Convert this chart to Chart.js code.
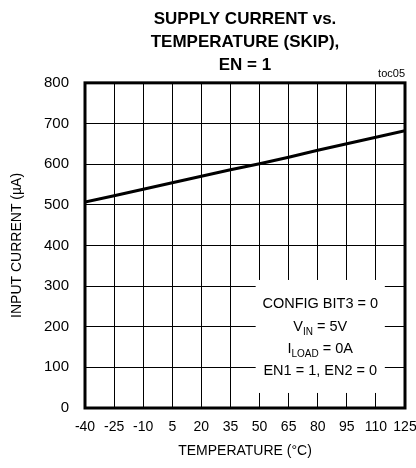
<!DOCTYPE html>
<html lang="en">
<head>
  <meta charset="UTF-8">
  <title>Supply Current vs. Temperature</title>
  <script src="https://cdn.jsdelivr.net/npm/chart.js"></script>
  <style>
    html, body { margin: 0; padding: 0; background: #fff; }
    .chart-box { position: relative; width: 416px; height: 468px; }
  </style>
</head>
<body>
  <div class="chart-box">
    <canvas id="supplyChart"></canvas>
  </div>
  <script>
    // Data
    const temperatures = [-40, -25, -10, 5, 20, 35, 50, 65, 80, 95, 110, 125];
    const inputCurrent = [507, 522, 538, 554, 570, 586, 601, 617, 634, 650, 666, 682];
    const xTicks = [-40, -25, -10, 5, 20, 35, 50, 65, 80, 95, 110, 125];
    const yTicks = [0, 100, 200, 300, 400, 500, 600, 700, 800];

    const FONT = "'Liberation Sans', Arial, sans-serif";

    // note box (in data units) and its text lines
    const noteBox = { x0: 48, x1: 114.6, y0: 37, y1: 315 };
    const noteLines = [
      [['CONFIG BIT3 = 0', false]],
      [['V', false], ['IN', true], [' = 5V', false]],
      [['I', false], ['LOAD', true], [' = 0A', false]],
      [['EN1 = 1, EN2 = 0', false]]
    ];

    const framePlugin = {
      id: 'frame',
      beforeDatasetsDraw(chart) {
        const { ctx, scales: { x, y } } = chart;
        const l = x.getPixelForValue(noteBox.x0), r = x.getPixelForValue(noteBox.x1);
        const t = y.getPixelForValue(noteBox.y1), b = y.getPixelForValue(noteBox.y0);
        ctx.save();
        ctx.fillStyle = '#fff';
        ctx.fillRect(l, t, r - l, b - t);
        ctx.restore();
      },
      afterDraw(chart) {
        const { ctx, chartArea: a, scales: { x, y } } = chart;
        ctx.save();
        // plot frame
        ctx.strokeStyle = '#000';
        ctx.lineWidth = 3;
        ctx.strokeRect(a.left, a.top, a.right - a.left, a.bottom - a.top);

        // toc05 label
        ctx.fillStyle = '#000';
        ctx.font = '11px ' + FONT;
        ctx.textAlign = 'right';
        ctx.textBaseline = 'bottom';
        ctx.fillText('toc05', a.right, a.top - 3);

        // note text
        const cx = x.getPixelForValue((noteBox.x0 + noteBox.x1) / 2);
        const top = y.getPixelForValue(noteBox.y1);
        const rows = [28, 51, 73, 95];
        ctx.textBaseline = 'alphabetic';
        ctx.textAlign = 'left';
        noteLines.forEach((parts, i) => {
          let w = 0;
          parts.forEach(([s, sub]) => {
            ctx.font = (sub ? '10px ' : '14.5px ') + FONT;
            w += ctx.measureText(s).width;
          });
          let px = cx - w / 2;
          const base = top + rows[i];
          parts.forEach(([s, sub]) => {
            ctx.font = (sub ? '10px ' : '14.5px ') + FONT;
            ctx.fillText(s, px, sub ? base + 4 : base);
            px += ctx.measureText(s).width;
          });
        });
        ctx.restore();
      }
    };

    const ctx = document.getElementById('supplyChart').getContext('2d');
    new Chart(ctx, {
      type: 'line',
      data: {
        datasets: [{
          data: temperatures.map((t, i) => ({ x: t, y: inputCurrent[i] })),
          borderColor: '#000',
          borderWidth: 3,
          pointRadius: 0,
          tension: 0,
          fill: false
        }]
      },
      options: {
        responsive: true,
        maintainAspectRatio: false,
        animation: false,
        layout: { padding: { left: 4, right: 11, top: 0, bottom: 4 } },
        plugins: {
          legend: { display: false },
          tooltip: { enabled: false },
          title: {
            display: true,
            fullSize: false,
            text: ['SUPPLY CURRENT vs.', 'TEMPERATURE (SKIP),', 'EN = 1'],
            color: '#000',
            font: { family: FONT, size: 17, weight: 'bold', lineHeight: 1.35 },
            padding: { top: 8, bottom: 6 }
          }
        },
        scales: {
          x: {
            type: 'linear',
            min: -40,
            max: 125,
            afterBuildTicks: s => { s.ticks = xTicks.map(v => ({ value: v })); },
            afterFit: s => { s.height = 56; s.paddingLeft = 0; s.paddingRight = 0; },
            grid: { color: '#000', lineWidth: 1, drawTicks: false },
            border: { display: false },
            ticks: { color: '#000', font: { family: FONT, size: 14 }, padding: 11, maxRotation: 0, autoSkip: false },
            title: {
              display: true,
              text: 'TEMPERATURE (°C)',
              color: '#000',
              font: { family: FONT, size: 14 },
              padding: { top: 8 }
            }
          },
          y: {
            min: 0,
            max: 800,
            afterBuildTicks: s => { s.ticks = yTicks.map(v => ({ value: v })); },
            afterFit: s => { s.width = 81; },
            grid: { color: '#000', lineWidth: 1, drawTicks: false },
            border: { display: false },
            ticks: { color: '#000', font: { family: FONT, size: 15 }, padding: 16, autoSkip: false },
            title: {
              display: true,
              text: 'INPUT CURRENT (µA)',
              color: '#000',
              font: { family: FONT, size: 14 },
              padding: { top: 5, bottom: 6 }
            }
          }
        }
      },
      plugins: [framePlugin]
    });
  </script>
</body>
</html>
